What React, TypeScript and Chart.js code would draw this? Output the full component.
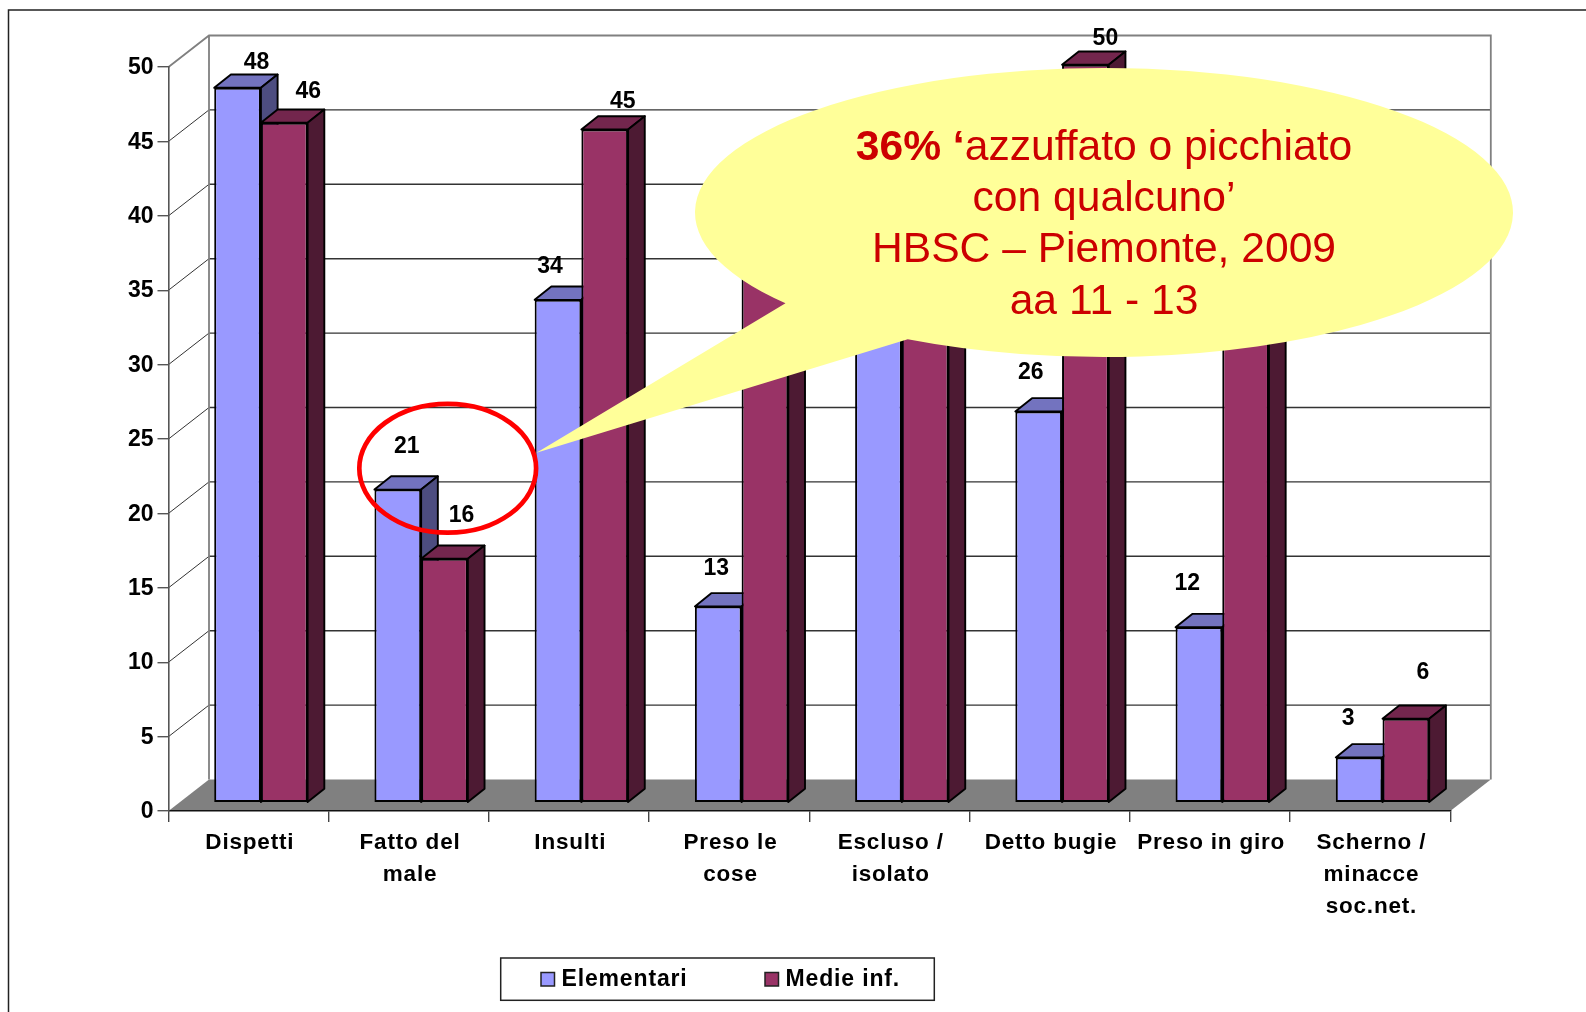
import React, { useEffect, useRef } from "react";
import { Chart, registerables } from "chart.js";

Chart.register(...registerables);

const categories: (string | string[])[] = [
  "Dispetti",
  ["Fatto del", "male"],
  "Insulti",
  ["Preso le", "cose"],
  ["Escluso /", "isolato"],
  "Detto bugie",
  "Preso in giro",
  ["Scherno /", "minacce", "soc.net."],
];
const elementari = [48.05, 21.05, 33.8, 13.2, 33, 26.3, 11.8, 3.05];
const medieInf = [45.7, 16.4, 45.25, 38, 40, 49.6, 42, 5.65];
const calloutLines = ["con qualcuno’", "HBSC – Piemonte, 2009", "aa 11 - 13"];
const calloutBold = "36% ‘";
const calloutFirst = "azzuffato o picchiato";

// hand-placed data label offsets from the top centre of each bar
const nudgeElementari = [[19, -25], [9, -43], [-8, -33], [-2, -38], [0, -30], [-8, -39], [-11.6, -44], [-11, -39]];
const nudgeMedie = [[24, -31], [17, -43], [18, -28], [20, -28], [20, -28], [20, -26], [20, -28], [17, -46]];

const FONT = '"Liberation Sans", Arial, sans-serif';
const BLUE = { front: "#9999FF", top: "#7373BF", side: "#4D4D80" };
const RED = { front: "#993366", top: "#73264D", side: "#4D1A33" };

const WALL = { dx: 40.5, dy: 31.5 };
const BAR_SHIFT = { dx: 12.3, dy: 8.2 };
const BAR_DEPTH = { dx: 16.7, dy: 13.3 };

const poly = (ctx: CanvasRenderingContext2D, pts: number[][]) => {
  ctx.beginPath();
  pts.forEach(([x, y], i) => (i ? ctx.lineTo(x, y) : ctx.moveTo(x, y)));
  ctx.closePath();
};

const wrapLabels = (ctx: any, scale: any, dx: number, dy: number, spacing: string) => {
  if (scale.__wrapped) return;
  const orig = scale.drawLabels.bind(scale);
  scale.drawLabels = (area: any) => {
    ctx.save();
    ctx.translate(dx, dy);
    ctx.letterSpacing = spacing;
    orig(area);
    ctx.restore();
  };
  scale.__wrapped = true;
};

const scene3d = {
  id: "scene3d",
  beforeDraw(chart: any) {
    const { ctx, scales } = chart;
    const xs = scales.x;
    const ys = scales.y;
    wrapLabels(ctx, xs, 1.2, 0, "0.8px");
    wrapLabels(ctx, ys, 0, 0.8, "0px");
    const l = xs.left;
    const r = xs.right;
    const y0 = ys.getPixelForValue(0);
    const yMax = ys.getPixelForValue(50);
    ctx.save();
    // page frame
    ctx.strokeStyle = "#222";
    ctx.lineWidth = 1.5;
    ctx.beginPath();
    ctx.moveTo(8.5, 1012);
    ctx.lineTo(8.5, 10);
    ctx.lineTo(1586, 10);
    ctx.stroke();
    // floor
    ctx.fillStyle = "#808080";
    poly(ctx, [[l, y0], [l + WALL.dx, y0 - WALL.dy], [r + WALL.dx, y0 - WALL.dy], [r, y0]]);
    ctx.fill();
    // gridlines
    for (const t of ys.ticks) {
      if (t.value === 0 || t.value === 50) continue;
      const y = ys.getPixelForValue(t.value);
      ctx.strokeStyle = "#333";
      ctx.lineWidth = 1;
      ctx.beginPath();
      ctx.moveTo(l, y);
      ctx.lineTo(l + WALL.dx, y - WALL.dy);
      ctx.stroke();
      ctx.lineWidth = 1.4;
      ctx.beginPath();
      ctx.moveTo(l + WALL.dx, y - WALL.dy);
      ctx.lineTo(r + WALL.dx, y - WALL.dy);
      ctx.stroke();
    }
    // wall outline
    ctx.strokeStyle = "#808080";
    ctx.lineWidth = 1.8;
    ctx.beginPath();
    ctx.moveTo(l, yMax);
    ctx.lineTo(l + WALL.dx, yMax - WALL.dy);
    ctx.lineTo(r + WALL.dx, yMax - WALL.dy);
    ctx.lineTo(r + WALL.dx, y0 - WALL.dy);
    ctx.moveTo(l + WALL.dx, yMax - WALL.dy);
    ctx.lineTo(l + WALL.dx, y0 - WALL.dy);
    ctx.stroke();
    ctx.restore();
  },
  beforeDatasetsDraw(chart: any) {
    const { ctx } = chart;
    ctx.save();
    ctx.translate(BAR_SHIFT.dx, -BAR_SHIFT.dy);
    // top and side faces: Elementari first, Medie over it; the front faces follow from the library
    ctx.save();
    ctx.strokeStyle = "#000";
    ctx.lineWidth = 1.9;
    ctx.lineJoin = "round";
    [BLUE, RED].forEach((col, i) => {
      for (const el of chart.getDatasetMeta(i).data) {
        const { x, y, base, width } = el.getProps(["x", "y", "base", "width"], true);
        const a = x - width / 2;
        const b = x + width / 2;
        const { dx, dy } = BAR_DEPTH;
        poly(ctx, [[a, y], [b, y], [b + dx, y - dy], [a + dx, y - dy]]);
        ctx.fillStyle = col.top;
        ctx.fill();
        ctx.stroke();
        poly(ctx, [[b, y], [b + dx, y - dy], [b + dx, base - dy], [b, base]]);
        ctx.fillStyle = col.side;
        ctx.fill();
        ctx.stroke();
      }
    });
    ctx.restore();
  },
  afterDatasetsDraw(chart: any) {
    const { ctx } = chart;
    ctx.restore();
    ctx.save();
    ctx.fillStyle = "#000";
    ctx.font = `bold 23px ${FONT}`;
    ctx.textAlign = "center";
    ctx.textBaseline = "middle";
    chart.data.datasets.forEach((ds: any, i: number) => {
      const nudges = i === 0 ? nudgeElementari : nudgeMedie;
      chart.getDatasetMeta(i).data.forEach((el: any, j: number) => {
        const { x, y } = el.getProps(["x", "y"], true);
        ctx.fillText(
          String(Math.round(ds.data[j])),
          x + BAR_SHIFT.dx + nudges[j][0],
          y - BAR_SHIFT.dy + nudges[j][1]
        );
      });
    });
    ctx.restore();
  },
  afterDraw(chart: any) {
    const { ctx } = chart;
    ctx.save();
    // legend
    ctx.fillStyle = "#fff";
    ctx.fillRect(500.7, 958, 433.6, 42.3);
    ctx.strokeStyle = "#222";
    ctx.lineWidth = 1.5;
    ctx.strokeRect(500.7, 958, 433.6, 42.3);
    ctx.font = `bold 23px ${FONT}`;
    (ctx as any).letterSpacing = "0.85px";
    ctx.textBaseline = "alphabetic";
    ctx.textAlign = "left";
    const slots = [[541, 561.5], [765, 785.5]];
    chart.data.datasets.forEach((ds: any, i: number) => {
      ctx.fillStyle = ds.backgroundColor;
      ctx.fillRect(slots[i][0], 972.5, 13.5, 13.5);
      ctx.strokeStyle = "#222";
      ctx.strokeRect(slots[i][0], 972.5, 13.5, 13.5);
      ctx.fillStyle = "#000";
      ctx.fillText(ds.label, slots[i][1], 985.8);
    });
    (ctx as any).letterSpacing = "0px";

    // callout
    const cx = 1104;
    const cy = 212.5;
    const rx = 409;
    const ry = 144.5;
    const tip = [536.5, 452.7];
    const aUpper = Math.atan2((303.3 - cy) / ry, (785 - cx) / rx);
    const aLower = Math.atan2((339.3 - cy) / ry, (907.7 - cx) / rx);
    ctx.fillStyle = "#FFFF99";
    ctx.beginPath();
    ctx.ellipse(cx, cy, rx, ry, 0, aUpper, aLower + Math.PI * 2);
    ctx.lineTo(tip[0], tip[1]);
    ctx.closePath();
    ctx.fill();

    ctx.fillStyle = "#CC0000";
    ctx.textBaseline = "alphabetic";
    ctx.textAlign = "left";
    const bold = `bold 42.6px ${FONT}`;
    const reg = `42.6px ${FONT}`;
    ctx.font = bold;
    const wb = ctx.measureText(calloutBold).width;
    ctx.font = reg;
    const wr = ctx.measureText(calloutFirst).width;
    const sx = cx - (wb + wr) / 2;
    ctx.font = bold;
    ctx.fillText(calloutBold, sx, 160.3);
    ctx.font = reg;
    ctx.fillText(calloutFirst, sx + wb, 160.3);
    ctx.textAlign = "center";
    calloutLines.forEach((t, i) => ctx.fillText(t, cx, [211, 262.3, 314][i]));

    // red ring
    ctx.strokeStyle = "#FF0000";
    ctx.lineWidth = 4.7;
    ctx.beginPath();
    ctx.ellipse(447.7, 468.3, 88.4, 64.4, 0, 0, Math.PI * 2);
    ctx.stroke();
    ctx.restore();
  },
};

export default function App() {
  const ref = useRef<HTMLCanvasElement>(null);
  useEffect(() => {
    const chart = new Chart(ref.current as HTMLCanvasElement, {
      type: "bar",
      data: {
        labels: categories as any,
        datasets: [
          {
            label: "Elementari",
            data: elementari,
            backgroundColor: BLUE.front,
            borderColor: "#000",
            borderWidth: 2,
            borderSkipped: false,
            clip: false,
          } as any,
          {
            label: "Medie inf.",
            data: medieInf,
            backgroundColor: RED.front,
            borderColor: "#000",
            borderWidth: 2,
            borderSkipped: false,
            clip: false,
          } as any,
        ],
      },
      options: {
        responsive: false,
        animation: false,
        categoryPercentage: 0.583,
        barPercentage: 1,
        layout: { padding: { top: 67, right: 135.7, left: 0, bottom: 0 } },
        plugins: { legend: { display: false }, tooltip: { enabled: false } },
        scales: {
          x: {
            afterFit: (s: any) => {
              s.height = 201;
            },
            grid: { drawOnChartArea: false, tickLength: 11, color: "#444", lineWidth: 1.4 },
            border: { color: "#111", width: 1.6 },
            ticks: {
              autoSkip: false,
              maxRotation: 0,
              minRotation: 0,
              color: "#000",
              padding: 5,
              font: { family: FONT, size: 22.5, weight: "bold", lineHeight: 1.42 },
            },
          },
          y: {
            min: 0,
            max: 50,
            afterFit: (s: any) => {
              s.width = 168.5;
            },
            grid: { drawOnChartArea: false, tickLength: 11, color: "#555", lineWidth: 1.4 },
            border: { color: "#555", width: 1.6 },
            ticks: {
              stepSize: 5,
              color: "#000",
              padding: 4,
              font: { family: FONT, size: 23, weight: "bold" },
            },
          },
        },
      } as any,
      plugins: [scene3d],
    });
    return () => chart.destroy();
  }, []);
  return (
    <canvas
      ref={ref}
      width={1586}
      height={1012}
      style={{ position: "fixed", left: 0, top: 0, width: 1586, height: 1012 }}
    />
  );
}
